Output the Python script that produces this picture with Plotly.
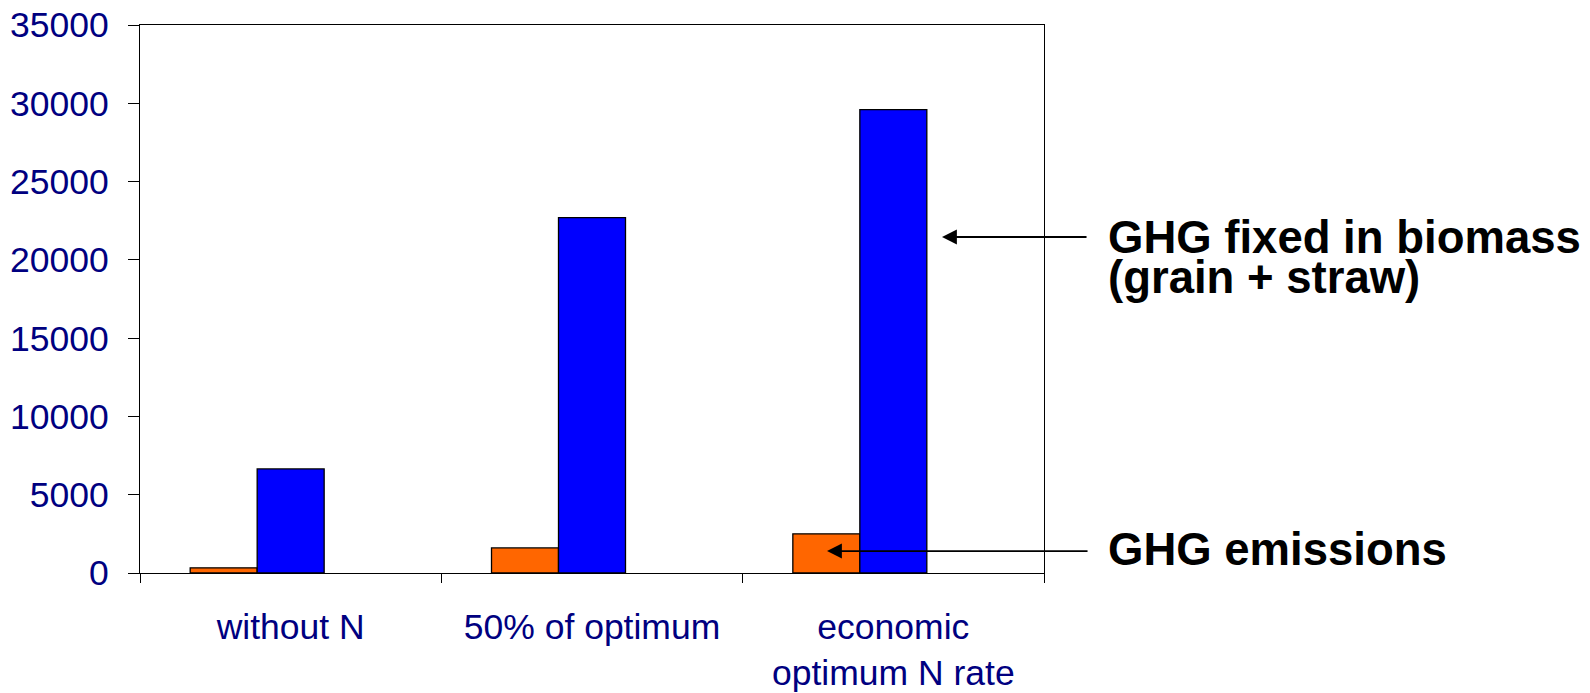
import plotly.graph_objects as go

categories = ["without N", "50% of optimum", "economic<br>optimum N rate"]
ghg_emissions = [330, 1600, 2500]
ghg_fixed = [6650, 22700, 29600]
empty_series = [None, None, None]
y_ticks = [0, 5000, 10000, 15000, 20000, 25000, 30000, 35000]

navy = "#000080"
font_family = "Liberation Sans, Arial, sans-serif"

fig = go.Figure()
fig.add_trace(go.Bar(x=categories, y=ghg_emissions, name="GHG emissions",
                     marker=dict(color="#FF6600", line=dict(color="black", width=1.3))))
fig.add_trace(go.Bar(x=categories, y=ghg_fixed, name="GHG fixed in biomass",
                     marker=dict(color="#0000FF", line=dict(color="black", width=1.3))))
fig.add_trace(go.Bar(x=categories, y=empty_series, name="",
                     marker=dict(color="white", line=dict(color="black", width=1.3))))

fig.update_layout(
    width=1590, height=693,
    margin=dict(l=132, r=554, t=17, b=128, autoexpand=False),
    paper_bgcolor="white", plot_bgcolor="white",
    barmode="group", bargap=0.333, bargroupgap=0,
    showlegend=False,
    font=dict(family=font_family, color=navy),
)
fig.update_yaxes(
    range=[0, 35000], tickvals=y_ticks, ticktext=[str(v) for v in y_ticks],
    showgrid=False, zeroline=False, automargin=False,
    showline=True, linecolor="black", linewidth=1.4, mirror=True,
    ticks="outside", ticklen=11, tickcolor="black", tickwidth=1.3,
    tickfont=dict(size=35.5, color=navy, family=font_family),
    ticklabelstandoff=12, ticklabeloverflow="allow",
)
fig.update_xaxes(
    showgrid=False, zeroline=False, automargin=False,
    showline=True, linecolor="black", linewidth=1.4, mirror=True,
    ticks="outside", ticklen=9, tickcolor="black", tickwidth=1.3,
    tickson="boundaries",
    tickfont=dict(size=35.5, color=navy, family=font_family),
    ticklabelstandoff=22, ticklabeloverflow="allow",
)

label_font = dict(size=45.5, color="black", family=font_family)
fig.add_annotation(xref="paper", yref="paper", x=1.0686, y=0.6131,
                   text="<b>GHG fixed in biomass</b>", showarrow=False,
                   xanchor="left", yanchor="middle", font=label_font)
fig.add_annotation(xref="paper", yref="paper", x=1.0686, y=0.539,
                   text="<b>(grain + straw)</b>", showarrow=False,
                   xanchor="left", yanchor="middle", font=label_font)
fig.add_annotation(xref="paper", yref="paper", x=1.0686, y=0.043,
                   text="<b>GHG emissions</b>", showarrow=False,
                   xanchor="left", yanchor="middle", font=label_font)

arrow_style = dict(showarrow=True, arrowhead=2, arrowsize=1.65, arrowwidth=1.8,
                   arrowcolor="black", text="", axref="pixel", ayref="pixel",
                   xref="paper", yref="paper", standoff=0, startstandoff=0)
fig.add_annotation(x=0.8872, y=0.6131, ax=146, ay=0, **arrow_style)
fig.add_annotation(x=0.760, y=0.0401, ax=262, ay=0, **arrow_style)

fig.write_html("out.html")
